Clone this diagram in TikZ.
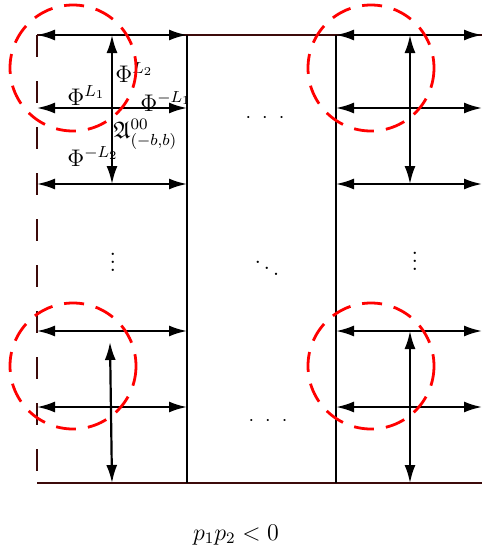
\documentclass[tikz,border=0pt]{standalone}
\usepackage{amsmath,amssymb,amsfonts}
\usetikzlibrary{arrows.meta,positioning,calc}
\definecolor{BorderBrown}{HTML}{3C0A0A}
\definecolor{ZoneRed}{HTML}{FF0000}
\tikzset{
    % Plain grid line
    gridline/.style={
        line width=1.1pt,
        draw=black
    },
    % Outer border line
    borderline/.style={
        line width=1.1pt,
        draw=BorderBrown
    },
    % Dashed left border
    dashedborder/.style={
        borderline,
        dash pattern=on 11pt off 12pt
    },
    % Double headed arrow
    biarrow/.style={
        {Latex[length=9pt,width=5.5pt]}-{Latex[length=9pt,width=5.5pt]},
        line width=1.1pt,
        draw=black
    },
    % Red dashed zone
    zonecircle/.style={
        draw=ZoneRed,
        line width=1.4pt,
        dash pattern=on 10pt off 6pt
    },
    % Labels
    lbl/.style={
        inner sep=0pt,
        font=\large
    },
    % Dots
    dotlbl/.style={
        inner sep=0pt
    }
}

\begin{document}
\begin{tikzpicture}[x=0.5pt,y=-0.5pt]
    \useasboundingbox (0,0) rectangle (482,547);

    % Grid points
    \foreach \cx/\x in {a/37,b/112,c/187,d/336,e/410,f/482}
        \foreach \ry/\y in {1/35,2/108,3/184,4/331,5/407,6/483}
            \coordinate (\cx\ry) at (\x,\y);
    \coordinate (b4x) at (110,342);

    % Labels
    \node[lbl,anchor=base west] (phiLtwo) at (115,82) {$\Phi^{L_2}$};
    \node[lbl,anchor=base west] (phiLone) at (67,105) {$\Phi^{L_1}$};
    \node[lbl,anchor=base west] (phimLone) at (140,111) {$\Phi^{-L_1}$};
    \node[lbl,anchor=base west] (frakA) at (113,138) {$\mathfrak{A}^{00}_{(-b,b)}$};
    \node[lbl,anchor=base west] (phimLtwo) at (67,166) {$\Phi^{-L_2}$};

    % Borders
    \draw[borderline] (a1) -- (f1);
    \draw[borderline] (a6) -- (f6);
    \draw[dashedborder] (a1) -- (a6);
    \draw[gridline] (c1) -- (c6);
    \draw[gridline] (d1) -- (d6);

    % Horizontal arrows
    \foreach \r in {1,2,3,4,5} {
        \draw[biarrow] (a\r) -- (c\r);
        \draw[biarrow] (d\r) -- (f\r);
    }

    % Vertical arrows
    \draw[biarrow] (b1) -- (b3);
    \draw[biarrow] (e1) -- (e3);
    \draw[biarrow] (b4x) -- (b6);
    \draw[biarrow] (e4) -- (e6);

    % Dots
    \node[dotlbl] (dotstop) at (265,118) {$\cdotp\mkern7mu\cdotp\mkern7mu\cdotp$};
    \node[dotlbl] (dotsbot) at (268,421) {$\cdotp\mkern7mu\cdotp\mkern7mu\cdotp$};
    \node[lbl] (vdotsl) at (113,256) {$\vdots$};
    \node[lbl] (vdotsr) at (415,255) {$\vdots$};
    \node[lbl] (ddotsm) at (267,262) {$\ddots$};

    % Zones
    \coordinate (ztl) at (73,68);
    \coordinate (ztr) at (371,68);
    \coordinate (zbl) at (73,366);
    \coordinate (zbr) at (371,366);
    \foreach \z in {ztl,ztr,zbl,zbr}
        \draw[zonecircle] (\z) circle[radius=63];

    % Caption
    \node[lbl,anchor=base] (caption) at (236,540) {$p_1p_2<0$};
\end{tikzpicture}
\end{document}
